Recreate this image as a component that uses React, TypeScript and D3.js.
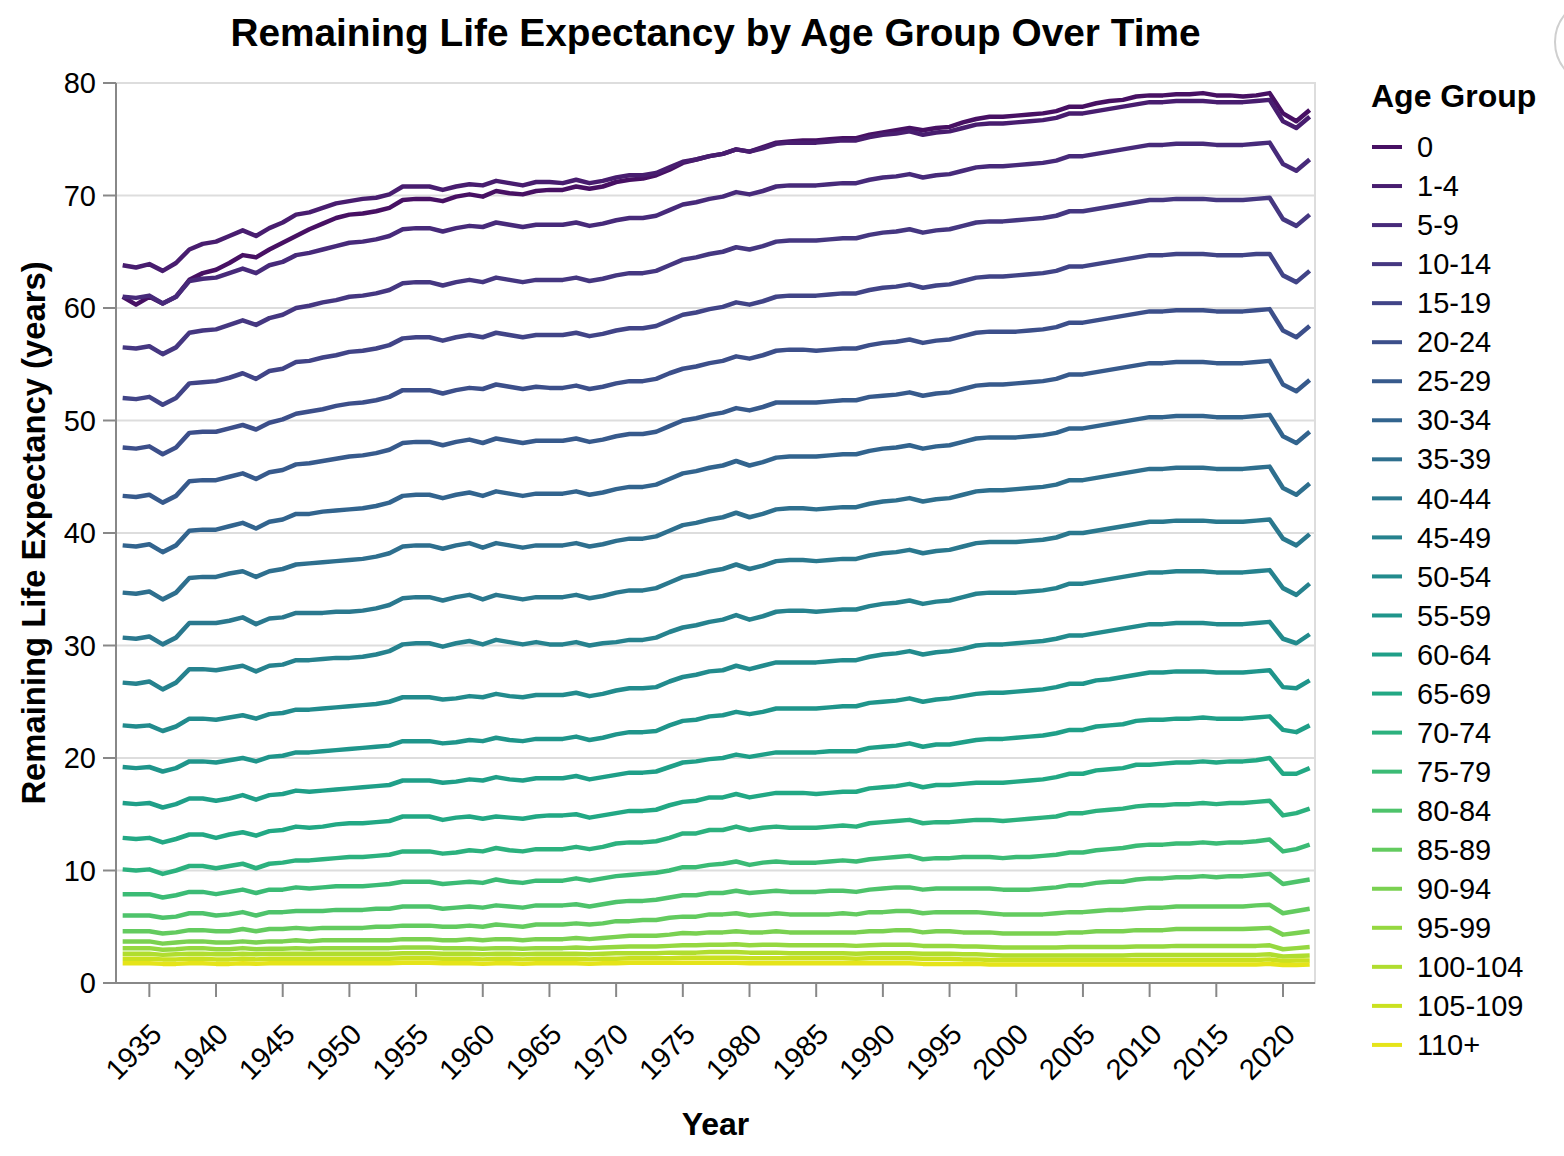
import React from 'react';
import * as d3 from 'd3';

const years = [1933,1934,1935,1936,1937,1938,1939,1940,1941,1942,1943,1944,1945,1946,1947,1948,1949,1950,1951,1952,1953,1954,1955,1956,1957,1958,1959,1960,1961,1962,1963,1964,1965,1966,1967,1968,1969,1970,1971,1972,1973,1974,1975,1976,1977,1978,1979,1980,1981,1982,1983,1984,1985,1986,1987,1988,1989,1990,1991,1992,1993,1994,1995,1996,1997,1998,1999,2000,2001,2002,2003,2004,2005,2006,2007,2008,2009,2010,2011,2012,2013,2014,2015,2016,2017,2018,2019,2020,2021,2022];

const xTickYears = [1935,1940,1945,1950,1955,1960,1965,1970,1975,1980,1985,1990,1995,2000,2005,2010,2015,2020];
const yTickValues = [0,10,20,30,40,50,60,70,80];

const ageGroups = ['0','1-4','5-9','10-14','15-19','20-24','25-29','30-34','35-39','40-44','45-49','50-54','55-59','60-64','65-69','70-74','75-79','80-84','85-89','90-94','95-99','100-104','105-109','110+'];

const age0 = [61.0,60.3,61.0,60.4,61.0,62.5,63.1,63.4,64.0,64.7,
64.5,65.2,65.8,66.4,67.0,67.5,68.0,68.3,68.4,68.6,
68.9,69.6,69.7,69.7,69.5,69.9,70.1,69.9,70.4,70.2,
70.1,70.4,70.5,70.5,70.8,70.6,70.8,71.2,71.4,71.5,
71.8,72.3,72.9,73.2,73.5,73.7,74.1,73.9,74.3,74.7,
74.8,74.9,74.9,75.0,75.1,75.1,75.4,75.6,75.8,76.0,
75.8,76.0,76.1,76.5,76.8,77.0,77.0,77.1,77.2,77.3,
77.5,77.9,77.9,78.2,78.4,78.5,78.8,78.9,78.9,79.0,
79.0,79.1,78.9,78.9,78.8,78.9,79.1,77.3,76.6,77.6];

const age1to4 = [63.8,63.6,63.9,63.3,64.0,65.2,65.7,65.9,66.4,66.9,
66.4,67.1,67.6,68.3,68.5,68.9,69.3,69.5,69.7,69.8,
70.1,70.8,70.8,70.8,70.5,70.8,71.0,70.9,71.3,71.1,
70.9,71.2,71.2,71.1,71.4,71.1,71.3,71.6,71.8,71.8,
72.0,72.5,73.0,73.2,73.5,73.7,74.1,73.9,74.2,74.6,
74.7,74.7,74.7,74.8,74.9,74.9,75.2,75.4,75.5,75.7,
75.4,75.6,75.7,76.0,76.3,76.4,76.4,76.5,76.6,76.7,
76.9,77.3,77.3,77.5,77.7,77.9,78.1,78.3,78.3,78.4,
78.4,78.4,78.3,78.3,78.3,78.4,78.5,76.6,76.0,77.0];

const age5to9 = [61.0,60.9,61.1,60.4,61.0,62.4,62.6,62.7,63.1,63.5,
63.1,63.8,64.1,64.7,64.9,65.2,65.5,65.8,65.9,66.1,
66.4,67.0,67.1,67.1,66.8,67.1,67.3,67.2,67.6,67.4,
67.2,67.4,67.4,67.4,67.6,67.3,67.5,67.8,68.0,68.0,
68.2,68.7,69.2,69.4,69.7,69.9,70.3,70.1,70.4,70.8,
70.9,70.9,70.9,71.0,71.1,71.1,71.4,71.6,71.7,71.9,
71.6,71.8,71.9,72.2,72.5,72.6,72.6,72.7,72.8,72.9,
73.1,73.5,73.5,73.7,73.9,74.1,74.3,74.5,74.5,74.6,
74.6,74.6,74.5,74.5,74.5,74.6,74.7,72.8,72.2,73.2];

const age10to14 = [56.5,56.4,56.6,55.9,56.5,57.8,58.0,58.1,58.5,58.9,
58.5,59.1,59.4,60.0,60.2,60.5,60.7,61.0,61.1,61.3,
61.6,62.2,62.3,62.3,62.0,62.3,62.5,62.3,62.7,62.5,
62.3,62.5,62.5,62.5,62.7,62.4,62.6,62.9,63.1,63.1,
63.3,63.8,64.3,64.5,64.8,65.0,65.4,65.2,65.5,65.9,
66.0,66.0,66.0,66.1,66.2,66.2,66.5,66.7,66.8,67.0,
66.7,66.9,67.0,67.3,67.6,67.7,67.7,67.8,67.9,68.0,
68.2,68.6,68.6,68.8,69.0,69.2,69.4,69.6,69.6,69.7,
69.7,69.7,69.6,69.6,69.6,69.7,69.8,67.9,67.3,68.3];

const age15to19 = [52.0,51.9,52.1,51.4,52.0,53.3,53.4,53.5,53.8,54.2,
53.7,54.4,54.6,55.2,55.3,55.6,55.8,56.1,56.2,56.4,
56.7,57.3,57.4,57.4,57.1,57.4,57.6,57.4,57.8,57.6,
57.4,57.6,57.6,57.6,57.8,57.5,57.7,58.0,58.2,58.2,
58.4,58.9,59.4,59.6,59.9,60.1,60.5,60.3,60.6,61.0,
61.1,61.1,61.1,61.2,61.3,61.3,61.6,61.8,61.9,62.1,
61.8,62.0,62.1,62.4,62.7,62.8,62.8,62.9,63.0,63.1,
63.3,63.7,63.7,63.9,64.1,64.3,64.5,64.7,64.7,64.8,
64.8,64.8,64.7,64.7,64.7,64.8,64.8,62.9,62.3,63.3];

const age20to24 = [47.6,47.5,47.7,47.0,47.6,48.9,49.0,49.0,49.3,49.6,
49.2,49.8,50.1,50.6,50.8,51.0,51.3,51.5,51.6,51.8,
52.1,52.7,52.7,52.7,52.4,52.7,52.9,52.8,53.2,53.0,
52.8,53.0,52.9,52.9,53.1,52.8,53.0,53.3,53.5,53.5,
53.7,54.2,54.6,54.8,55.1,55.3,55.7,55.5,55.8,56.2,
56.3,56.3,56.2,56.3,56.4,56.4,56.7,56.9,57.0,57.2,
56.9,57.1,57.2,57.5,57.8,57.9,57.9,57.9,58.0,58.1,
58.3,58.7,58.7,58.9,59.1,59.3,59.5,59.7,59.7,59.8,
59.8,59.8,59.7,59.7,59.7,59.8,59.9,58.0,57.4,58.4];

const age25to29 = [43.3,43.2,43.4,42.7,43.3,44.6,44.7,44.7,45.0,45.3,
44.8,45.4,45.6,46.1,46.2,46.4,46.6,46.8,46.9,47.1,
47.4,48.0,48.1,48.1,47.8,48.1,48.3,48.0,48.4,48.2,
48.0,48.2,48.2,48.2,48.4,48.1,48.3,48.6,48.8,48.8,
49.0,49.5,50.0,50.2,50.5,50.7,51.1,50.9,51.2,51.6,
51.6,51.6,51.6,51.7,51.8,51.8,52.1,52.2,52.3,52.5,
52.2,52.4,52.5,52.8,53.1,53.2,53.2,53.3,53.4,53.5,
53.7,54.1,54.1,54.3,54.5,54.7,54.9,55.1,55.1,55.2,
55.2,55.2,55.1,55.1,55.1,55.2,55.3,53.2,52.6,53.6];

const age30to34 = [38.9,38.8,39.0,38.3,38.9,40.2,40.3,40.3,40.6,40.9,
40.4,41.0,41.2,41.7,41.7,41.9,42.0,42.1,42.2,42.4,
42.7,43.3,43.4,43.4,43.1,43.4,43.6,43.3,43.7,43.5,
43.3,43.5,43.5,43.5,43.7,43.4,43.6,43.9,44.1,44.1,
44.3,44.8,45.3,45.5,45.8,46.0,46.4,46.0,46.3,46.7,
46.8,46.8,46.8,46.9,47.0,47.0,47.3,47.5,47.6,47.8,
47.5,47.7,47.8,48.1,48.4,48.5,48.5,48.5,48.6,48.7,
48.9,49.3,49.3,49.5,49.7,49.9,50.1,50.3,50.3,50.4,
50.4,50.4,50.3,50.3,50.3,50.4,50.5,48.6,48.0,49.0];

const age35to39 = [34.7,34.6,34.8,34.1,34.7,36.0,36.1,36.1,36.4,36.6,
36.1,36.6,36.8,37.2,37.3,37.4,37.5,37.6,37.7,37.9,
38.2,38.8,38.9,38.9,38.6,38.9,39.1,38.7,39.1,38.9,
38.7,38.9,38.9,38.9,39.1,38.8,39.0,39.3,39.5,39.5,
39.7,40.2,40.7,40.9,41.2,41.4,41.8,41.4,41.7,42.1,
42.2,42.2,42.1,42.2,42.3,42.3,42.6,42.8,42.9,43.1,
42.8,43.0,43.1,43.4,43.7,43.8,43.8,43.9,44.0,44.1,
44.3,44.7,44.7,44.9,45.1,45.3,45.5,45.7,45.7,45.8,
45.8,45.8,45.7,45.7,45.7,45.8,45.9,44.0,43.4,44.4];

const age40to44 = [30.7,30.6,30.8,30.1,30.7,32.0,32.0,32.0,32.2,32.5,
31.9,32.4,32.5,32.9,32.9,32.9,33.0,33.0,33.1,33.3,
33.6,34.2,34.3,34.3,34.0,34.3,34.5,34.1,34.5,34.3,
34.1,34.3,34.3,34.3,34.5,34.2,34.4,34.7,34.9,34.9,
35.1,35.6,36.1,36.3,36.6,36.8,37.2,36.8,37.1,37.5,
37.6,37.6,37.5,37.6,37.7,37.7,38.0,38.2,38.3,38.5,
38.2,38.4,38.5,38.8,39.1,39.2,39.2,39.2,39.3,39.4,
39.6,40.0,40.0,40.2,40.4,40.6,40.8,41.0,41.0,41.1,
41.1,41.1,41.0,41.0,41.0,41.1,41.2,39.5,38.9,39.9];

const age45to49 = [26.7,26.6,26.8,26.1,26.7,27.9,27.9,27.8,28.0,28.2,
27.7,28.2,28.3,28.7,28.7,28.8,28.9,28.9,29.0,29.2,
29.5,30.1,30.2,30.2,29.9,30.2,30.4,30.1,30.5,30.3,
30.1,30.3,30.1,30.1,30.3,30.0,30.2,30.3,30.5,30.5,
30.7,31.2,31.6,31.8,32.1,32.3,32.7,32.3,32.6,33.0,
33.1,33.1,33.0,33.1,33.2,33.2,33.5,33.7,33.8,34.0,
33.7,33.9,34.0,34.3,34.6,34.7,34.7,34.7,34.8,34.9,
35.1,35.5,35.5,35.7,35.9,36.1,36.3,36.5,36.5,36.6,
36.6,36.6,36.5,36.5,36.5,36.6,36.7,35.1,34.5,35.5];

const age50to54 = [22.9,22.8,22.9,22.4,22.8,23.5,23.5,23.4,23.6,23.8,
23.5,23.9,24.0,24.3,24.3,24.4,24.5,24.6,24.7,24.8,
25.0,25.4,25.4,25.4,25.2,25.3,25.5,25.4,25.7,25.5,
25.4,25.6,25.6,25.6,25.8,25.5,25.7,26.0,26.2,26.2,
26.3,26.8,27.2,27.4,27.7,27.8,28.2,27.9,28.2,28.5,
28.5,28.5,28.5,28.6,28.7,28.7,29.0,29.2,29.3,29.5,
29.2,29.4,29.5,29.7,30.0,30.1,30.1,30.2,30.3,30.4,
30.6,30.9,30.9,31.1,31.3,31.5,31.7,31.9,31.9,32.0,
32.0,32.0,31.9,31.9,31.9,32.0,32.1,30.6,30.2,31.0];

const age55to59 = [19.2,19.1,19.2,18.8,19.1,19.7,19.7,19.6,19.8,20.0,
19.7,20.1,20.2,20.5,20.5,20.6,20.7,20.8,20.9,21.0,
21.1,21.5,21.5,21.5,21.3,21.4,21.6,21.5,21.8,21.6,
21.5,21.7,21.7,21.7,21.9,21.6,21.8,22.1,22.3,22.3,
22.4,22.9,23.3,23.4,23.7,23.8,24.1,23.9,24.1,24.4,
24.4,24.4,24.4,24.5,24.6,24.6,24.9,25.0,25.1,25.3,
25.0,25.2,25.3,25.5,25.7,25.8,25.8,25.9,26.0,26.1,
26.3,26.6,26.6,26.9,27.0,27.2,27.4,27.6,27.6,27.7,
27.7,27.7,27.6,27.6,27.6,27.7,27.8,26.3,26.2,26.9];

const age60to64 = [16.0,15.9,16.0,15.6,15.9,16.4,16.4,16.2,16.4,16.7,
16.3,16.7,16.8,17.1,17.0,17.1,17.2,17.3,17.4,17.5,
17.6,18.0,18.0,18.0,17.8,17.9,18.1,18.0,18.3,18.1,
18.0,18.2,18.2,18.2,18.4,18.1,18.3,18.5,18.7,18.7,
18.8,19.2,19.6,19.7,19.9,20.0,20.3,20.1,20.3,20.5,
20.5,20.5,20.5,20.6,20.6,20.6,20.9,21.0,21.1,21.3,
21.0,21.2,21.2,21.4,21.6,21.7,21.7,21.8,21.9,22.0,
22.2,22.5,22.5,22.8,22.9,23.0,23.3,23.4,23.4,23.5,
23.5,23.6,23.5,23.5,23.5,23.6,23.7,22.5,22.3,22.9];

const age65to69 = [12.9,12.8,12.9,12.5,12.8,13.2,13.2,12.9,13.2,13.4,
13.1,13.5,13.6,13.9,13.8,13.9,14.1,14.2,14.2,14.3,
14.4,14.8,14.8,14.8,14.5,14.7,14.8,14.6,14.8,14.7,
14.6,14.8,14.9,14.9,15.0,14.7,14.9,15.1,15.3,15.3,
15.4,15.8,16.1,16.2,16.5,16.5,16.8,16.5,16.7,16.9,
16.9,16.9,16.8,16.9,17.0,17.0,17.3,17.4,17.5,17.7,
17.4,17.6,17.6,17.7,17.8,17.8,17.8,17.9,18.0,18.1,
18.3,18.6,18.6,18.9,19.0,19.1,19.4,19.4,19.5,19.6,
19.6,19.7,19.6,19.7,19.7,19.8,20.0,18.6,18.6,19.1];

const age70to74 = [10.1,10.0,10.1,9.7,10.0,10.4,10.4,10.2,10.4,10.6,
10.2,10.6,10.7,10.9,10.9,11.0,11.1,11.2,11.2,11.3,
11.4,11.7,11.7,11.7,11.5,11.6,11.8,11.7,12.0,11.8,
11.7,11.9,11.9,11.9,12.1,11.9,12.1,12.4,12.5,12.5,
12.6,12.9,13.3,13.3,13.6,13.6,13.9,13.6,13.8,13.9,
13.8,13.8,13.8,13.9,14.0,13.9,14.2,14.3,14.4,14.5,
14.2,14.3,14.3,14.4,14.5,14.5,14.4,14.5,14.6,14.7,
14.8,15.1,15.1,15.3,15.4,15.5,15.7,15.8,15.8,15.9,
15.9,16.0,15.9,16.0,16.0,16.1,16.2,14.9,15.1,15.5];

const age75to79 = [7.9,7.9,7.9,7.6,7.8,8.1,8.1,7.9,8.1,8.3,
8.0,8.3,8.3,8.5,8.4,8.5,8.6,8.6,8.6,8.7,
8.8,9.0,9.0,9.0,8.8,8.9,9.0,8.9,9.2,9.0,
8.9,9.1,9.1,9.1,9.3,9.1,9.3,9.5,9.6,9.7,
9.8,10.0,10.3,10.3,10.5,10.6,10.8,10.5,10.7,10.8,
10.7,10.7,10.7,10.8,10.9,10.8,11.0,11.1,11.2,11.3,
11.0,11.1,11.1,11.2,11.2,11.2,11.1,11.2,11.2,11.3,
11.4,11.6,11.6,11.8,11.9,12.0,12.2,12.3,12.3,12.4,
12.4,12.5,12.4,12.5,12.5,12.6,12.75,11.7,11.9,12.3];

const age80to84 = [6.0,6.0,6.0,5.8,5.9,6.2,6.2,6.0,6.1,6.3,
6.0,6.3,6.3,6.4,6.4,6.4,6.5,6.5,6.5,6.6,
6.6,6.8,6.8,6.8,6.6,6.7,6.8,6.7,6.9,6.8,
6.7,6.9,6.9,6.9,7.0,6.8,7.0,7.2,7.3,7.3,
7.4,7.6,7.8,7.8,8.0,8.0,8.2,8.0,8.1,8.2,
8.1,8.1,8.1,8.2,8.2,8.1,8.3,8.4,8.5,8.5,
8.3,8.4,8.4,8.4,8.4,8.4,8.3,8.3,8.3,8.4,
8.5,8.7,8.7,8.9,9.0,9.0,9.2,9.3,9.3,9.4,
9.4,9.5,9.4,9.5,9.5,9.6,9.7,8.8,9.0,9.2];

const age85to89 = [4.6,4.6,4.6,4.4,4.5,4.7,4.7,4.6,4.6,4.8,
4.6,4.8,4.8,4.9,4.8,4.9,4.9,4.9,4.9,5.0,
5.0,5.1,5.1,5.1,5.0,5.0,5.1,5.0,5.2,5.1,
5.0,5.2,5.2,5.2,5.3,5.2,5.3,5.5,5.5,5.6,
5.6,5.8,5.9,5.9,6.1,6.1,6.2,6.0,6.1,6.2,
6.1,6.1,6.1,6.1,6.2,6.1,6.3,6.3,6.4,6.4,
6.2,6.3,6.3,6.3,6.3,6.2,6.1,6.1,6.1,6.1,
6.2,6.3,6.3,6.4,6.5,6.5,6.6,6.7,6.7,6.8,
6.8,6.8,6.8,6.8,6.8,6.9,6.95,6.2,6.4,6.6];

const age90to94 = [3.7,3.7,3.7,3.5,3.6,3.7,3.7,3.6,3.6,3.7,
3.6,3.7,3.7,3.8,3.7,3.8,3.8,3.8,3.8,3.8,
3.8,3.9,3.9,3.9,3.8,3.8,3.9,3.8,3.9,3.9,
3.8,3.9,3.9,3.9,4.0,3.9,4.0,4.1,4.2,4.2,
4.2,4.3,4.45,4.4,4.5,4.5,4.6,4.5,4.5,4.6,
4.5,4.5,4.5,4.5,4.5,4.5,4.6,4.6,4.7,4.7,
4.5,4.6,4.6,4.5,4.5,4.5,4.4,4.4,4.4,4.4,
4.4,4.5,4.5,4.6,4.6,4.6,4.7,4.7,4.7,4.8,
4.8,4.8,4.8,4.8,4.8,4.85,4.9,4.3,4.45,4.6];

const age95to99 = [3.1,3.1,3.1,2.95,3.0,3.1,3.1,3.0,3.0,3.1,
3.0,3.05,3.05,3.1,3.05,3.1,3.1,3.1,3.1,3.1,
3.1,3.15,3.15,3.15,3.1,3.1,3.1,3.05,3.1,3.1,
3.05,3.1,3.1,3.1,3.15,3.1,3.15,3.2,3.25,3.25,
3.25,3.3,3.35,3.35,3.4,3.4,3.45,3.35,3.4,3.4,
3.35,3.35,3.35,3.35,3.35,3.3,3.35,3.4,3.4,3.4,
3.3,3.3,3.3,3.25,3.25,3.2,3.15,3.15,3.15,3.15,
3.15,3.2,3.2,3.2,3.2,3.2,3.25,3.25,3.25,3.3,
3.3,3.3,3.3,3.3,3.3,3.3,3.35,3.0,3.1,3.2];

const age100to104 = [2.6,2.6,2.6,2.5,2.55,2.6,2.6,2.55,2.55,2.6,
2.55,2.6,2.6,2.6,2.6,2.6,2.6,2.6,2.6,2.6,
2.6,2.65,2.65,2.65,2.6,2.6,2.6,2.55,2.6,2.6,
2.55,2.6,2.6,2.6,2.6,2.55,2.6,2.65,2.65,2.65,
2.65,2.7,2.7,2.7,2.75,2.75,2.75,2.7,2.7,2.7,
2.65,2.65,2.65,2.65,2.65,2.6,2.65,2.65,2.65,2.65,
2.6,2.6,2.6,2.55,2.55,2.5,2.45,2.45,2.45,2.45,
2.45,2.45,2.45,2.45,2.45,2.45,2.5,2.5,2.5,2.5,
2.5,2.5,2.5,2.5,2.5,2.5,2.55,2.35,2.4,2.45];

const age105to109 = [2.15,2.15,2.15,2.1,2.1,2.15,2.15,2.1,2.1,2.15,
2.1,2.15,2.15,2.15,2.15,2.15,2.15,2.15,2.15,2.15,
2.15,2.2,2.2,2.2,2.15,2.15,2.15,2.1,2.15,2.15,
2.1,2.15,2.15,2.15,2.15,2.1,2.15,2.15,2.2,2.2,
2.2,2.2,2.25,2.25,2.25,2.25,2.25,2.2,2.2,2.2,
2.2,2.2,2.2,2.2,2.2,2.15,2.2,2.2,2.2,2.2,
2.15,2.15,2.15,2.1,2.1,2.05,2.05,2.05,2.05,2.05,
2.05,2.05,2.05,2.05,2.05,2.05,2.05,2.05,2.05,2.05,
2.05,2.05,2.05,2.05,2.05,2.05,2.1,1.95,2.0,2.0];

const age110plus = [1.75,1.75,1.75,1.7,1.7,1.75,1.75,1.7,1.7,1.75,
1.7,1.75,1.75,1.75,1.75,1.75,1.75,1.75,1.75,1.75,
1.75,1.8,1.8,1.8,1.75,1.75,1.75,1.7,1.75,1.75,
1.7,1.75,1.75,1.75,1.75,1.7,1.75,1.75,1.8,1.8,
1.8,1.8,1.8,1.8,1.8,1.8,1.8,1.75,1.75,1.75,
1.75,1.75,1.75,1.75,1.75,1.75,1.75,1.75,1.75,1.75,
1.7,1.7,1.7,1.7,1.7,1.65,1.65,1.65,1.65,1.65,
1.65,1.65,1.65,1.65,1.65,1.65,1.65,1.65,1.65,1.65,
1.65,1.65,1.65,1.65,1.65,1.65,1.7,1.6,1.6,1.65];

const seriesValues = [age0, age1to4, age5to9, age10to14, age15to19, age20to24, age25to29, age30to34, age35to39, age40to44, age45to49, age50to54, age55to59, age60to64, age65to69, age70to74, age75to79, age80to84, age85to89, age90to94, age95to99, age100to104, age105to109, age110plus];

const FONT = 'Liberation Sans, Arial, Helvetica, sans-serif';
const W = 1564;
const H = 1156;
const PL = 116, PR = 1315, PT = 83, PB = 983;

export default function App() {
  const x = d3.scaleLinear().domain([1932.5, 2022.4]).range([PL, PR]);
  const y = d3.scaleLinear().domain([0, 80]).range([PB, PT]);
  const n = ageGroups.length;
  // Vega-style discrete sampling of the viridis scheme (endpoints excluded)
  const color = d3.scaleOrdinal<string, string>()
    .domain(ageGroups)
    .range(ageGroups.map((_, i) => d3.interpolateViridis((i + 1) / (n + 1))));
  const line = d3.line<number>()
    .x((_, i) => x(years[i]))
    .y((d) => y(d));

  const legendY = (i: number) => 147 + i * 39.04;

  return (
    <svg width={W} height={H} style={{ position: 'absolute', left: 0, top: 0, background: '#fff' }} fontFamily={FONT}>
      <rect x={0} y={0} width={W} height={H} fill="#fff" />
      <circle cx={1598} cy={42} r={43} fill="none" stroke="#cfcfcf" strokeWidth={2} />
      <text x={(PL + PR) / 2} y={46} textAnchor="middle" fontSize={38.8} fontWeight="bold" fill="#000">
        Remaining Life Expectancy by Age Group Over Time
      </text>
      <rect x={PL} y={PT} width={PR - PL} height={PB - PT} fill="none" stroke="#ddd" strokeWidth={2} />
      {yTickValues.map((v) => (
        <line key={'g' + v} x1={PL} x2={PR} y1={y(v)} y2={y(v)} stroke="#ddd" strokeWidth={2} />
      ))}
      {seriesValues.map((vals, i) => (
        <path key={ageGroups[i]} d={line(vals) || ''} fill="none" stroke={color(ageGroups[i])}
          strokeWidth={4.5} strokeLinejoin="round" strokeLinecap="butt" />
      ))}
      <line x1={PL} x2={PL} y1={PT} y2={PB} stroke="#888" strokeWidth={2} />
      {yTickValues.map((v) => (
        <g key={'yt' + v}>
          <line x1={PL - 13} x2={PL} y1={y(v)} y2={y(v)} stroke="#888" strokeWidth={2} />
          <text x={96} y={y(v)} dy="0.35em" textAnchor="end" fontSize={29} fill="#000">{v}</text>
        </g>
      ))}
      <text transform={`translate(45, ${(PT + PB) / 2}) rotate(-90)`} textAnchor="middle" fontSize={32.8} fontWeight="bold" fill="#000">
        Remaining Life Expectancy (years)
      </text>
      <line x1={PL} x2={PR} y1={PB} y2={PB} stroke="#888" strokeWidth={2} />
      {xTickYears.map((yr) => (
        <g key={'xt' + yr}>
          <line x1={x(yr)} x2={x(yr)} y1={PB} y2={PB + 14} stroke="#888" strokeWidth={2} />
          <text transform={`translate(${x(yr) + 14}, 1036) rotate(-45)`} textAnchor="end" fontSize={29} fill="#000">{yr}</text>
        </g>
      ))}
      <text x={(PL + PR) / 2} y={1135} textAnchor="middle" fontSize={32} fontWeight="bold" fill="#000">Year</text>
      <text x={1371} y={107} fontSize={32} fontWeight="bold" fill="#000">Age Group</text>
      {ageGroups.map((g, i) => (
        <g key={'lg' + g}>
          <line x1={1372} x2={1402} y1={legendY(i)} y2={legendY(i)} stroke={color(g)} strokeWidth={4} />
          <text x={1417} y={legendY(i)} dy="0.35em" fontSize={29} fill="#000">{g}</text>
        </g>
      ))}
    </svg>
  );
}
